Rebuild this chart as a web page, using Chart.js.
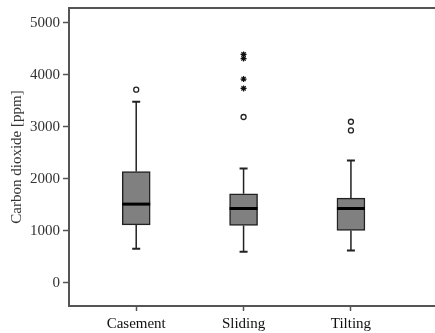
<!DOCTYPE html>
<html>
<head>
<meta charset="utf-8">
<script src="https://cdn.jsdelivr.net/npm/chart.js@4"></script>
<style>
  html, body { margin: 0; padding: 0; background: #fff; overflow: hidden; }
  canvas { display: block; }
</style>
</head>
<body>
<canvas id="chart" width="435" height="333"></canvas>
<script>
const categories = ["Casement", "Sliding", "Tilting"];
const whiskerLow = [654, 596, 621];
const q1 = [1115, 1102, 1006];
const median = [1513, 1429, 1429];
const q3 = [2140, 1711, 1629];
const whiskerHigh = [3480, 2198, 2352];
const outliers = [[3712], [3187], [3096, 2929]];
const extremes = [[], [3737, 3917, 4310, 4390], []];
const yTicks = [0, 1000, 2000, 3000, 4000, 5000];

const ink = "#333";
const font = { family: "Liberation Serif", size: 15 };

// whiskers, caps, medians and the top frame line
const boxExtras = {
  id: "boxExtras",
  afterDatasetsDraw(chart) {
    const { ctx, scales: { x, y } } = chart;
    const a = chart.chartArea;
    ctx.save();
    categories.forEach((c, i) => {
      const cx = x.getPixelForValue(i + 1);
      ctx.strokeStyle = "#222";
      ctx.lineWidth = 1.5;
      ctx.beginPath();
      ctx.moveTo(cx, y.getPixelForValue(q3[i]));
      ctx.lineTo(cx, y.getPixelForValue(whiskerHigh[i]));
      ctx.moveTo(cx, y.getPixelForValue(q1[i]));
      ctx.lineTo(cx, y.getPixelForValue(whiskerLow[i]));
      ctx.stroke();
      ctx.lineWidth = 2;
      ctx.beginPath();
      [whiskerHigh[i], whiskerLow[i]].forEach(v => {
        const py = y.getPixelForValue(v);
        ctx.moveTo(cx - 4, py);
        ctx.lineTo(cx + 4, py);
      });
      ctx.stroke();
      ctx.strokeStyle = "#000";
      ctx.lineWidth = 3;
      ctx.beginPath();
      const my = y.getPixelForValue(median[i]);
      ctx.moveTo(cx - 14, my);
      ctx.lineTo(cx + 14, my);
      ctx.stroke();
    });
    ctx.strokeStyle = "#555";
    ctx.lineWidth = 2;
    ctx.beginPath();
    ctx.moveTo(a.left, a.top);
    ctx.lineTo(a.right, a.top);
    ctx.stroke();
    ctx.restore();
  }
};

new Chart(document.getElementById("chart"), {
  type: "bar",
  data: {
    datasets: [
      {
        type: "bar",
        data: categories.map((c, i) => ({ x: i + 1, y: [q1[i], q3[i]] })),
        backgroundColor: "#808080",
        borderColor: "#222",
        borderWidth: 1.5,
        borderSkipped: false,
        barThickness: 28,
      },
      {
        type: "scatter",
        data: outliers.flatMap((vals, i) => vals.map(v => ({ x: i + 1, y: v }))),
        pointStyle: "circle",
        pointRadius: 2.5,
        backgroundColor: "#fff",
        borderColor: "#222",
        borderWidth: 1.3,
      },
      {
        type: "scatter",
        data: extremes.flatMap((vals, i) => vals.map(v => ({ x: i + 1, y: v }))),
        pointStyle: "star",
        pointRadius: 3,
        borderColor: "#111",
        borderWidth: 1.2,
      },
    ],
  },
  options: {
    responsive: false,
    animation: false,
    // plot area runs past the right edge, the frame is cut off there as in the original
    layout: { autoPadding: false, padding: { top: 8, right: -8, left: 0, bottom: 0 } },
    plugins: {
      legend: { display: false },
      tooltip: { enabled: false },
    },
    scales: {
      x: {
        type: "linear",
        offset: false,
        min: 0.374,
        max: 3.783,
        afterBuildTicks: s => { s.ticks = categories.map((c, i) => ({ value: i + 1 })); },
        afterFit: s => { s.height = 27; s.paddingLeft = 0; s.paddingRight = 0; },
        ticks: {
          color: "#111",
          font: font,
          padding: 4,
          maxRotation: 0,
          autoSkip: false,
          callback: v => categories[v - 1],
        },
        grid: { offset: false, drawOnChartArea: false, tickLength: 5, tickColor: "#555", tickWidth: 1.5 },
        border: { color: "#555", width: 2 },
      },
      y: {
        min: -445,
        max: 5282,
        afterBuildTicks: s => { s.ticks = yTicks.map(v => ({ value: v })); },
        afterFit: s => { s.width = 69; s.paddingTop = 0; s.paddingBottom = 0; },
        ticks: { color: ink, font: font, padding: 3, callback: v => String(v) },
        grid: { drawOnChartArea: false, tickLength: 6, tickColor: "#555", tickWidth: 1.5 },
        border: { color: "#555", width: 2 },
        title: {
          display: true,
          text: "Carbon dioxide [ppm]",
          color: ink,
          font: font,
          padding: { top: 8, bottom: 0 },
        },
      },
    },
  },
  plugins: [boxExtras],
});
</script>
</body>
</html>
